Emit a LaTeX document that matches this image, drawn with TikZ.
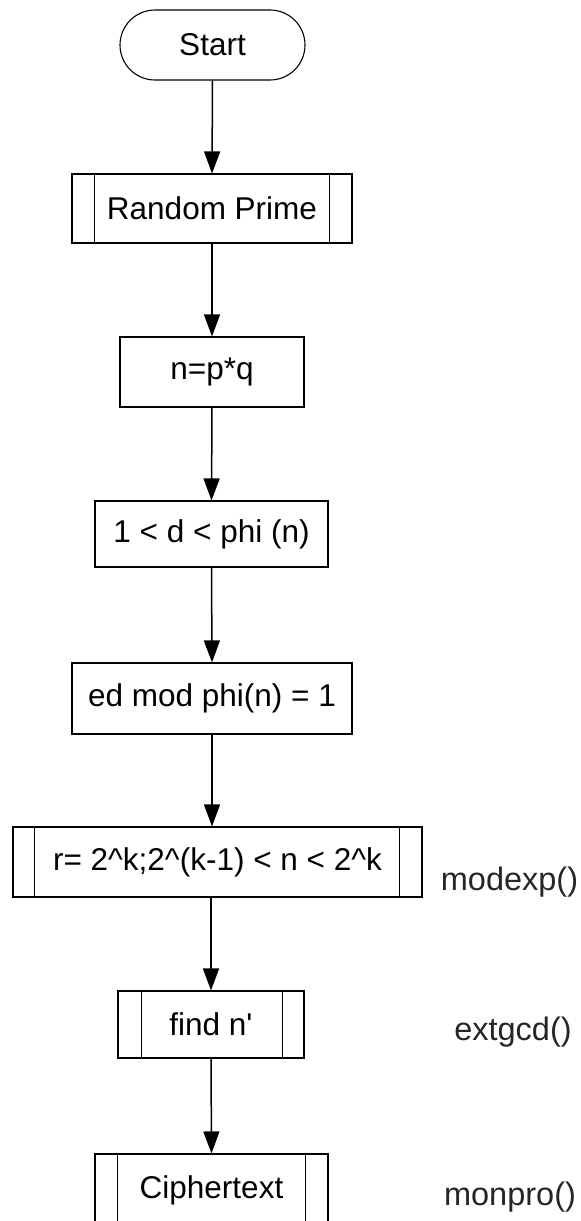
\documentclass[tikz,border=0pt]{standalone}
\usepackage{fontspec}
\newfontfamily\arialf{Liberation Sans}
\usetikzlibrary{arrows.meta}
\begin{document}
\begin{tikzpicture}[x=1pt,y=-1pt,
  box/.style={draw, line width=1.1pt, inner sep=0pt, font=\arialf\fontsize{31.5}{36}\selectfont},
  term/.style={box, rounded corners=35pt},
  flow/.style={line width=1.5pt, -{Triangle[length=22pt,width=16pt]}},
  side/.style={line width=1.1pt},
  lbl/.style={font=\arialf\fontsize{32.5}{38}\selectfont, text=black!85, inner sep=0pt}]
\useasboundingbox (0,0) rectangle (581,1221);
\clip (0,0) rectangle (581,1221);
\node[term, minimum width=185pt, minimum height=70pt] (start) at (212.5,45) {Start};
\node[box, minimum width=280pt, minimum height=69pt] (rp) at (212,208.5) {Random Prime};
\node[box, minimum width=184pt, minimum height=70pt] (npq) at (212,372) {n=p*q};
\node[box, minimum width=233pt, minimum height=66pt] (dd) at (211.5,534) {1 < d < phi (n)};
\node[box, minimum width=280pt, minimum height=71pt] (ed) at (212,698.5) {ed mod phi(n) = 1};
\node[box, minimum width=409pt, minimum height=70pt] (rr) at (217.5,862) {r= 2\textasciicircum k;2\textasciicircum(k-1) < n < 2\textasciicircum k};
\node[box, minimum width=186pt, minimum height=67pt] (fn) at (211,1024.5) {find n'};
\node[box, minimum width=233pt, minimum height=72pt] (ct) at (211.5,1190) {Ciphertext};
% side bars of predefined processes
\draw[side] ([xshift=23pt]rp.north west) -- ([xshift=23pt]rp.south west);
\draw[side] ([xshift=-23pt]rp.north east) -- ([xshift=-23pt]rp.south east);
\draw[side] ([xshift=22pt]rr.north west) -- ([xshift=22pt]rr.south west);
\draw[side] ([xshift=-23pt]rr.north east) -- ([xshift=-23pt]rr.south east);
\draw[side] ([xshift=24pt]fn.north west) -- ([xshift=24pt]fn.south west);
\draw[side] ([xshift=-22pt]fn.north east) -- ([xshift=-22pt]fn.south east);
\draw[side] ([xshift=23pt]ct.north west) -- ([xshift=23pt]ct.south west);
\draw[side] ([xshift=-23pt]ct.north east) -- ([xshift=-23pt]ct.south east);
% connectors
\draw[flow] (start.south) -- (rp.north);
\draw[flow] (rp.south) -- (npq.north);
\draw[flow] (npq.south) -- (dd.north);
\draw[flow] (dd.south) -- (ed.north);
\draw[flow] (ed.south) -- (ed.south |- rr.north);
\draw[flow] (rr.south -| fn.north) -- (fn.north);
\draw[flow] (fn.south) -- (ct.north);
% labels
\node[lbl] (l1) at (509.5,882) {modexp()};
\node[lbl] (l2) at (513,1032) {extgcd()};
\node[lbl] (l3) at (510,1197) {monpro()};
\end{tikzpicture}
\end{document}
